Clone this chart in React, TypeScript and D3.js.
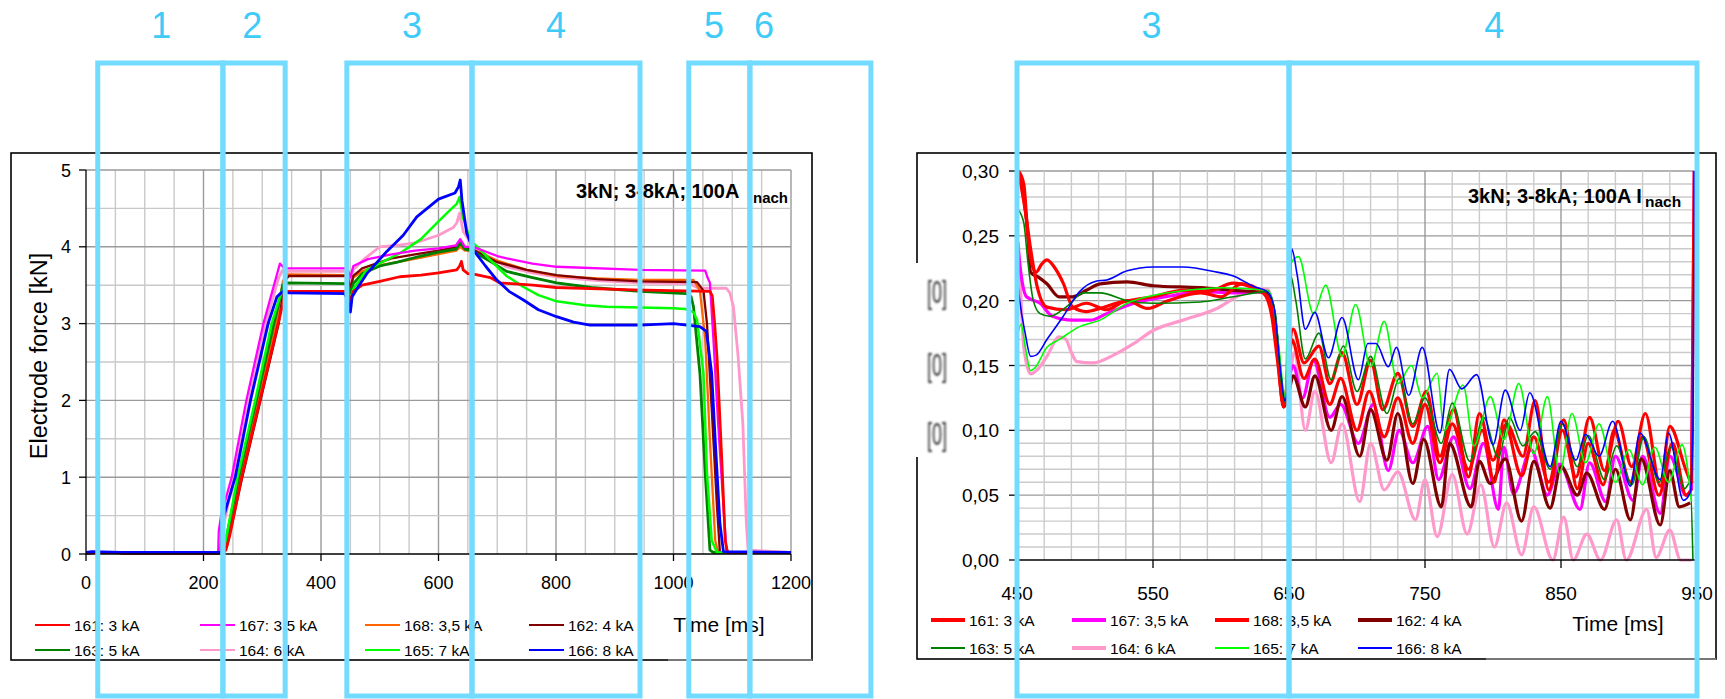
import React from 'react';
import * as d3 from 'd3';

const FONT = '"Liberation Sans", Arial, Helvetica, sans-serif';

// ---------- Left chart: electrode force [kN] vs time [ms] ----------
const forceTicksX = [0, 200, 400, 600, 800, 1000, 1200];
const forceTicksY = [0, 1, 2, 3, 4, 5];

const force161: [number, number][] = [[0,0.01],[20,0.02],[50,0.02],[60,0.01],[232,0.01],[238,0.05],[245,0.25],[265,1.0],[296,2.0],[327,3.0],[340,3.42],[445,3.42],[450,3.3],[455,3.42],[470,3.5],[500,3.55],[534,3.61],[570,3.63],[600,3.66],[631,3.7],[636,3.75],[639,3.81],[642,3.7],[650,3.65],[662,3.64],[688,3.6],[705,3.53],[761,3.5],[800,3.47],[931,3.44],[1062,3.42],[1066,3.36],[1070,3.0],[1074,2.57],[1082,1.26],[1088,0.18],[1092,0.02],[1200,0.02]];
const force167: [number, number][] = [[0,0.02],[225,0.02],[226,0.3],[230,0.5],[248,1.0],[273,2.0],[302,3.0],[330,3.78],[338,3.72],[445,3.72],[450,3.6],[455,3.75],[480,3.84],[520,3.9],[560,3.95],[600,3.98],[630,4.02],[637,4.1],[645,4.0],[659,4.0],[700,3.88],[716,3.85],[760,3.78],[801,3.74],[943,3.7],[1054,3.69],[1058,3.6],[1062,3.53],[1068,2.79],[1076,1.7],[1085,0.62],[1090,0.05],[1095,0.02],[1200,0.02]];
const force168: [number, number][] = [[0,0.02],[233,0.02],[238,0.1],[262,1.0],[293,2.0],[324,3.0],[335,3.55],[342,3.64],[445,3.63],[450,3.45],[455,3.6],[470,3.68],[500,3.76],[530,3.8],[570,3.86],[610,3.92],[630,3.95],[637,4.0],[645,3.95],[659,3.96],[700,3.82],[750,3.7],[801,3.62],[870,3.59],[943,3.57],[1034,3.57],[1045,3.43],[1054,2.79],[1062,1.48],[1071,0.18],[1076,0.02],[1200,0.02]];
const force162: [number, number][] = [[0,0.02],[235,0.02],[240,0.1],[266,1.0],[297,2.0],[328,3.0],[338,3.55],[345,3.62],[445,3.62],[450,3.45],[455,3.62],[470,3.72],[520,3.85],[560,3.9],[600,3.95],[630,4.0],[637,4.07],[645,3.98],[659,3.96],[700,3.8],[750,3.7],[801,3.63],[870,3.58],[943,3.55],[1040,3.54],[1051,3.43],[1057,3.0],[1065,1.9],[1074,0.62],[1079,0.02],[1200,0.02]];
const force163: [number, number][] = [[0,0.02],[232,0.02],[236,0.1],[260,1.0],[290,2.0],[320,3.0],[335,3.5],[340,3.53],[445,3.52],[450,3.4],[455,3.52],[470,3.65],[500,3.75],[530,3.8],[570,3.88],[600,3.93],[630,3.97],[637,4.05],[645,3.97],[659,3.94],[690,3.8],[716,3.68],[760,3.6],[801,3.53],[860,3.47],[943,3.42],[1022,3.39],[1030,3.35],[1034,3.22],[1045,2.35],[1054,1.05],[1062,0.05],[1068,0.02],[1200,0.02]];
const force164: [number, number][] = [[0,0.02],[228,0.02],[232,0.3],[252,1.0],[278,2.0],[306,3.0],[328,3.6],[335,3.7],[340,3.68],[445,3.68],[450,3.5],[455,3.7],[475,3.85],[500,4.0],[530,4.02],[560,4.05],[600,4.15],[625,4.25],[631,4.31],[636,4.44],[642,4.2],[659,4.0],[690,3.85],[716,3.74],[760,3.66],[801,3.61],[870,3.56],[943,3.53],[1028,3.52],[1040,3.47],[1045,3.46],[1090,3.46],[1096,3.4],[1102,3.22],[1110,2.57],[1118,1.7],[1124,0.4],[1127,0.05],[1200,0.02]];
const force165: [number, number][] = [[0,0.02],[230,0.02],[236,0.1],[258,1.0],[288,2.0],[316,3.0],[333,3.42],[445,3.42],[450,3.3],[455,3.45],[478,3.7],[535,3.92],[570,4.1],[600,4.33],[620,4.48],[631,4.56],[636,4.65],[641,4.4],[654,4.09],[688,3.83],[716,3.62],[744,3.48],[770,3.37],[801,3.29],[850,3.24],[886,3.22],[1000,3.2],[1020,3.19],[1034,3.15],[1040,3.05],[1051,2.35],[1057,1.05],[1065,0.18],[1074,0.02],[1200,0.02]];
const force166: [number, number][] = [[0,0.02],[10,0.03],[60,0.02],[230,0.02],[231,0.4],[254,1.0],[280,2.0],[310,3.0],[325,3.35],[335,3.42],[345,3.4],[440,3.39],[446,3.3],[450,3.15],[453,3.35],[465,3.5],[478,3.65],[512,3.94],[540,4.15],[563,4.39],[600,4.62],[628,4.7],[634,4.78],[637,4.87],[640,4.6],[648,4.18],[659,3.96],[680,3.75],[699,3.57],[720,3.42],[744,3.31],[770,3.18],[801,3.09],[830,3.02],[858,2.98],[943,2.98],[1000,3.0],[1045,2.96],[1056,2.9],[1065,2.35],[1071,1.48],[1079,0.4],[1085,0.03],[1200,0.02]];

// ---------- Right chart: values vs time [ms], 450..950 ----------
const resTicksX = [450, 550, 650, 750, 850, 950];
const resTicksY = [0, 0.05, 0.1, 0.15, 0.2, 0.25, 0.3];

const res161: [number, number][] = [[451,0.3],[455,0.29],[458,0.25],[461,0.228],[464,0.222],[468,0.228],[472,0.2315],[478,0.225],[484,0.2135],[491,0.195],[501,0.1916],[511,0.194],[523,0.198],[536,0.2006],[550,0.203],[572,0.208],[590,0.207],[609,0.2135],[621,0.211],[631,0.206],[636,0.2],[641,0.17],[645,0.123],[647,0.12],[650,0.16],[653,0.178],[661,0.152],[672,0.165],[680,0.136],[689,0.16],[700,0.12],[710,0.154],[719,0.116],[730,0.144],[741,0.103],[751,0.13],[761,0.08],[771,0.116],[782,0.064],[790,0.113],[800,0.077],[810,0.105],[822,0.08],[831,0.123],[841,0.054],[851,0.1],[861,0.064],[871,0.11],[882,0.069],[892,0.107],[902,0.072],[912,0.113],[923,0.057],[930,0.103],[942,0.069],[946,0.06],[948,0.3]];
const res167: [number, number][] = [[450,0.25],[453,0.22],[457,0.203],[467,0.198],[476,0.188],[491,0.185],[504,0.185],[516,0.19],[536,0.198],[565,0.204],[585,0.207],[609,0.206],[634,0.207],[639,0.19],[643,0.15],[646,0.12],[650,0.14],[653,0.15],[660,0.125],[668,0.154],[680,0.11],[688,0.12],[701,0.09],[712,0.12],[723,0.069],[731,0.1],[741,0.075],[752,0.103],[760,0.062],[771,0.095],[783,0.055],[793,0.09],[804,0.039],[808,0.087],[815,0.051],[828,0.085],[840,0.05],[849,0.074],[864,0.039],[871,0.075],[883,0.045],[890,0.08],[903,0.046],[910,0.08],[923,0.036],[930,0.08],[942,0.05],[946,0.055],[948,0.3]];
const res168: [number, number][] = [[451,0.3],[456,0.27],[460,0.24],[465,0.21],[472,0.195],[486,0.193],[501,0.198],[516,0.193],[531,0.2],[546,0.194],[561,0.2],[585,0.206],[600,0.203],[615,0.213],[631,0.206],[637,0.19],[642,0.15],[646,0.118],[650,0.15],[652,0.17],[661,0.14],[669,0.155],[680,0.12],[688,0.14],[700,0.1],[709,0.13],[720,0.095],[730,0.125],[741,0.09],[750,0.12],[761,0.075],[770,0.105],[782,0.07],[792,0.1],[801,0.06],[808,0.108],[821,0.065],[830,0.095],[841,0.06],[852,0.108],[862,0.055],[870,0.09],[881,0.058],[889,0.1],[901,0.06],[910,0.095],[922,0.05],[932,0.09],[942,0.05],[946,0.055]];
const res162: [number, number][] = [[451,0.3],[455,0.28],[458,0.25],[460,0.222],[466,0.218],[472,0.213],[481,0.203],[491,0.203],[501,0.208],[511,0.213],[531,0.2145],[550,0.2115],[585,0.21],[609,0.208],[634,0.206],[639,0.19],[643,0.15],[646,0.118],[650,0.13],[653,0.142],[662,0.118],[669,0.142],[681,0.1],[689,0.126],[702,0.08],[710,0.116],[722,0.077],[730,0.113],[741,0.059],[749,0.093],[762,0.041],[768,0.09],[784,0.041],[790,0.076],[798,0.059],[809,0.078],[821,0.03],[830,0.076],[842,0.04],[850,0.072],[862,0.05],[869,0.067],[882,0.039],[890,0.07],[901,0.031],[909,0.078],[923,0.027],[930,0.069],[937,0.041],[945,0.044]];
const res163: [number, number][] = [[451,0.27],[455,0.26],[458,0.23],[462,0.2],[467,0.19],[474,0.188],[486,0.195],[499,0.206],[511,0.206],[531,0.2],[550,0.198],[585,0.199],[609,0.203],[634,0.207],[640,0.19],[644,0.14],[647,0.122],[651,0.22],[655,0.2],[662,0.155],[672,0.175],[681,0.139],[690,0.165],[700,0.13],[710,0.157],[722,0.113],[731,0.14],[741,0.105],[750,0.125],[762,0.09],[770,0.121],[783,0.076],[793,0.11],[804,0.079],[812,0.11],[822,0.088],[831,0.099],[842,0.07],[851,0.105],[862,0.072],[870,0.096],[882,0.062],[891,0.088],[902,0.058],[911,0.095],[922,0.06],[931,0.087],[941,0.055],[945,0.06],[947,0.0]];
const res164: [number, number][] = [[451,0.245],[453,0.2],[455,0.164],[460,0.1435],[466,0.148],[472,0.157],[481,0.172],[486,0.17],[490,0.16],[494,0.153],[506,0.152],[521,0.158],[536,0.167],[550,0.177],[572,0.185],[597,0.194],[617,0.206],[634,0.209],[639,0.19],[643,0.14],[646,0.12],[649,0.13],[654,0.16],[662,0.1],[669,0.13],[681,0.075],[689,0.105],[702,0.045],[710,0.09],[720,0.054],[730,0.068],[743,0.031],[750,0.062],[759,0.018],[770,0.066],[781,0.02],[791,0.058],[801,0.01],[810,0.044],[821,0.004],[830,0.041],[844,0],[852,0.033],[859,0],[869,0.02],[879,0],[891,0.031],[898,0],[913,0.039],[920,0.002],[930,0.023],[938,0],[946,0]];
const res165: [number, number][] = [[450,0.17],[453,0.182],[456,0.165],[460,0.146],[463,0.148],[472,0.164],[481,0.17],[496,0.18],[511,0.185],[531,0.198],[550,0.204],[575,0.208],[600,0.21],[634,0.208],[638,0.2],[643,0.16],[647,0.125],[649,0.19],[651,0.228],[657,0.234],[668,0.19],[677,0.212],[689,0.157],[699,0.197],[710,0.149],[720,0.184],[730,0.136],[740,0.15],[748,0.125],[759,0.144],[764,0.1],[778,0.135],[786,0.088],[798,0.126],[808,0.093],[819,0.136],[830,0.082],[840,0.126],[849,0.067],[858,0.113],[868,0.075],[878,0.105],[890,0.06],[900,0.085],[910,0.058],[919,0.087],[929,0.06],[939,0.089],[946,0.045]];
const res166: [number, number][] = [[450,0.22],[452,0.2],[456,0.175],[460,0.157],[464,0.158],[472,0.17],[484,0.188],[496,0.207],[508,0.215],[516,0.216],[531,0.223],[550,0.226],[572,0.226],[597,0.222],[609,0.219],[624,0.211],[634,0.207],[639,0.195],[644,0.144],[647,0.123],[650,0.14],[652,0.24],[656,0.22],[662,0.178],[669,0.191],[679,0.156],[689,0.187],[701,0.139],[708,0.167],[714,0.167],[723,0.149],[729,0.164],[738,0.127],[748,0.164],[761,0.098],[768,0.147],[777,0.132],[788,0.143],[800,0.089],[809,0.131],[820,0.1],[827,0.129],[842,0.072],[850,0.107],[861,0.077],[868,0.097],[878,0.08],[888,0.107],[901,0.057],[908,0.098],[923,0.062],[929,0.098],[940,0.046],[945,0.052],[947,0.1],[948,0.3]];

// Phase annotations (ms on each chart's time axis)
const leftPhaseEdges = [[20, 233], [233, 339], [444, 657], [657, 943], [1026, 1130], [1130, 1336]];
const leftPhaseLabels: [string, number][] = [['1', 128], ['2', 283], ['3', 555], ['4', 800], ['5', 1069], ['6', 1154]];
const rightPhaseEdges = [[450, 650], [650, 950]];
const rightPhaseLabels: [string, number][] = [['3', 549], ['4', 801]];

type S = { name: string; color: string; w: number; lw: number; pts: [number, number][] };

const leftSeries: S[] = [
  { name: '161: 3 kA', color: '#FF0000', w: 2.8, lw: 2, pts: force161 },
  { name: '167: 3,5 kA', color: '#FF00FF', w: 2.3, lw: 2, pts: force167 },
  { name: '168: 3,5 kA', color: '#FF6600', w: 2.3, lw: 2, pts: force168 },
  { name: '162: 4 kA', color: '#800000', w: 2.3, lw: 2, pts: force162 },
  { name: '163: 5 kA', color: '#008000', w: 2.8, lw: 2, pts: force163 },
  { name: '164: 6 kA', color: '#FF99CC', w: 2.8, lw: 2, pts: force164 },
  { name: '165: 7 kA', color: '#00FF00', w: 2.5, lw: 2, pts: force165 },
  { name: '166: 8 kA', color: '#0000FF', w: 2.8, lw: 2, pts: force166 },
];
const leftDrawOrder = [5, 2, 3, 4, 6, 1, 0, 7];

const rightSeries: S[] = [
  { name: '161: 3 kA', color: '#FF0000', w: 3.2, lw: 4, pts: res161 },
  { name: '167: 3,5 kA', color: '#FF00FF', w: 3.2, lw: 4, pts: res167 },
  { name: '168: 3,5 kA', color: '#FF0000', w: 3.2, lw: 4, pts: res168 },
  { name: '162: 4 kA', color: '#800000', w: 3.2, lw: 4, pts: res162 },
  { name: '163: 5 kA', color: '#008000', w: 1.6, lw: 2, pts: res163 },
  { name: '164: 6 kA', color: '#FF99CC', w: 3.2, lw: 4, pts: res164 },
  { name: '165: 7 kA', color: '#00FF00', w: 1.6, lw: 2, pts: res165 },
  { name: '166: 8 kA', color: '#0000FF', w: 1.6, lw: 2, pts: res166 },
];
const rightDrawOrder = [5, 1, 3, 2, 0, 4, 6, 7];

const CYAN = '#73DBFF';
const CYAN_TXT = '#3FCBF8';

export default function App() {
  const xL = d3.scaleLinear().domain([0, 1200]).range([86, 791]);
  const yL = d3.scaleLinear().domain([0, 5]).range([554, 170]);
  const xR = d3.scaleLinear().domain([450, 950]).range([1017, 1697]);
  const yR = d3.scaleLinear().domain([0, 0.3]).range([560, 171]);

  const lineL = d3.line<[number, number]>().x(d => xL(d[0])).y(d => yL(d[1]));
  const lineR = d3.line<[number, number]>().x(d => xR(d[0])).y(d => yR(d[1])).curve(d3.curveMonotoneX);

  const gridLX = d3.range(50, 1201, 50);
  const gridLY = d3.range(0.5, 5.01, 0.5);
  const gridRX = d3.range(470, 951, 20);
  const gridRY = d3.range(1, 31, 1).map(v => v / 100);

  const legendColsL = [35, 200, 365, 529];
  const legendRowsL = [625, 650];
  const legendColsR = [931, 1072, 1215, 1358];
  const legendRowsR = [620, 648];

  const top = 63;
  const bottom = 696;

  return (
    <svg width={1725} height={699} style={{ position: 'absolute', left: 0, top: 0, background: '#fff' }}
      fontFamily={FONT}>
      <defs>
        <clipPath id="clipR"><rect x={1017} y={166} width={682} height={396} /></clipPath>
        <clipPath id="clipL"><rect x={86} y={160} width={706} height={396} /></clipPath>
        <filter id="blurH" x="-50%" y="-20%" width="200%" height="140%">
          <feGaussianBlur stdDeviation="1.3 0.6" />
        </filter>
      </defs>
      <rect x={0} y={0} width={1725} height={699} fill="#fff" />

      {/* ===== Left chart ===== */}
      <rect x={11} y={153} width={801} height={507} fill="#fff" stroke="#000" strokeWidth={1.6} />
      <line x1={668} x2={812} y1={660} y2={660} stroke="#777" strokeWidth={1.8} />
      {gridLX.map(t => (
        <line key={'lx' + t} x1={xL(t)} x2={xL(t)} y1={yL(5)} y2={yL(0)}
          stroke={t % 200 === 0 ? '#9a9a9a' : '#c9c9c9'} strokeWidth={1.4} />
      ))}
      {gridLY.map(v => (
        <line key={'ly' + v} x1={xL(0)} x2={xL(1200)} y1={yL(v)} y2={yL(v)}
          stroke={Math.abs(v - Math.round(v)) < 1e-6 ? '#9a9a9a' : '#c9c9c9'} strokeWidth={1.4} />
      ))}
      <g clipPath="url(#clipL)">
        {leftDrawOrder.map(i => {
          const s = leftSeries[i];
          return <path key={'L' + i} d={lineL(s.pts) || ''} fill="none" stroke={s.color} strokeWidth={s.w} strokeLinejoin="round" />;
        })}
      </g>
      <line x1={xL(0)} x2={xL(0)} y1={yL(5)} y2={yL(0)} stroke="#000" strokeWidth={1.3} />
      <line x1={xL(0)} x2={xL(1200)} y1={yL(0)} y2={yL(0)} stroke="#000" strokeWidth={1.3} />
      {forceTicksY.map(v => (
        <g key={'lty' + v}>
          <line x1={xL(0) - 7} x2={xL(0)} y1={yL(v)} y2={yL(v)} stroke="#000" strokeWidth={1.3} />
          <text x={71} y={yL(v) + 6.5} textAnchor="end" fontSize={18}>{v}</text>
        </g>
      ))}
      {forceTicksX.map(t => (
        <g key={'ltx' + t}>
          <line x1={xL(t)} x2={xL(t)} y1={yL(0)} y2={yL(0) + 7} stroke="#000" strokeWidth={1.3} />
          <text x={xL(t)} y={589} textAnchor="middle" fontSize={18}>{t}</text>
        </g>
      ))}
      <text transform="translate(47,356) rotate(-90)" textAnchor="middle" fontSize={23.5}>Electrode force [kN]</text>
      <text x={719} y={632} textAnchor="middle" fontSize={21}>Time [ms]</text>
      <text x={576} y={198} fontSize={20} fontWeight="bold">3kN; 3-8kA; 100A</text>
      <text x={753} y={203} fontSize={15} fontWeight="bold">nach</text>
      {leftSeries.map((s, i) => {
        const cx = legendColsL[i % 4];
        const cy = legendRowsL[Math.floor(i / 4)];
        return (
          <g key={'lg' + i}>
            <line x1={cx} x2={cx + 35} y1={cy} y2={cy} stroke={s.color} strokeWidth={s.lw} />
            <text x={cx + 39} y={cy + 5.5} fontSize={15.5}>{s.name}</text>
          </g>
        );
      })}

      {/* ===== Right chart ===== */}
      <rect x={917} y={153} width={799} height={506} fill="#fff" stroke="#000" strokeWidth={1.6} />
      <line x1={1486} x2={1716} y1={659} y2={659} stroke="#777" strokeWidth={1.8} />
      {gridRY.map(v => (
        <line key={'ry' + v} x1={xR(450)} x2={xR(950)} y1={yR(v)} y2={yR(v)}
          stroke={Math.round(v * 100) % 5 === 0 ? '#9a9a9a' : '#cbcbcb'} strokeWidth={1.4} />
      ))}
      {gridRX.map(t => (
        <line key={'rx' + t} x1={xR(t)} x2={xR(t)} y1={yR(0.3)} y2={yR(0)}
          stroke={(t - 450) % 100 === 0 ? '#9a9a9a' : '#cbcbcb'} strokeWidth={1.4} />
      ))}
      <g clipPath="url(#clipR)">
        {rightDrawOrder.map(i => {
          const s = rightSeries[i];
          return <path key={'R' + i} d={lineR(s.pts) || ''} fill="none" stroke={s.color} strokeWidth={s.w} strokeLinejoin="round" />;
        })}
      </g>
      <line x1={xR(450)} x2={xR(450)} y1={yR(0.3)} y2={yR(0)} stroke="#000" strokeWidth={1.3} />
      <line x1={xR(450)} x2={xR(950)} y1={yR(0)} y2={yR(0)} stroke="#000" strokeWidth={1.3} />
      {resTicksY.map(v => (
        <g key={'rty' + v}>
          <line x1={xR(450) - 8} x2={xR(450)} y1={yR(v)} y2={yR(v)} stroke="#000" strokeWidth={1.3} />
          <text x={999} y={yR(v) + 7} textAnchor="end" fontSize={19}>{d3.format('.2f')(v).replace('.', ',')}</text>
        </g>
      ))}
      {resTicksX.map(t => (
        <g key={'rtx' + t}>
          <line x1={xR(t)} x2={xR(t)} y1={yR(0)} y2={yR(0) + 8} stroke="#000" strokeWidth={1.3} />
          <text x={xR(t)} y={600} textAnchor="middle" fontSize={19}>{t}</text>
        </g>
      ))}
      <text x={1618} y={631} textAnchor="middle" fontSize={21}>Time [ms]</text>
      <text x={1468} y={203} fontSize={20} fontWeight="bold">3kN; 3-8kA; 100A I</text>
      <text x={1645} y={207} fontSize={15.5} fontWeight="bold">nach</text>
      {rightSeries.map((s, i) => {
        const cx = legendColsR[i % 4];
        const cy = legendRowsR[Math.floor(i / 4)];
        return (
          <g key={'rg' + i}>
            <line x1={cx} x2={cx + 34} y1={cy} y2={cy} stroke={s.color} strokeWidth={s.lw} />
            <text x={cx + 38} y={cy + 5.5} fontSize={15.5}>{s.name}</text>
          </g>
        );
      })}
      {/* obscured y-axis title */}
      <rect x={912} y={263} width={48} height={194} fill="#fff" />
      {[290, 363, 432].map((cy, i) => (
        <text key={'ob' + i} transform={`translate(937,${cy + 13}) scale(0.9,1.6)`} textAnchor="middle"
          fontSize={20} fill="#333" filter="url(#blurH)">[0]</text>
      ))}

      {/* ===== Phase overlay boxes ===== */}
      {leftPhaseEdges.map(([a, b], i) => (
        <rect key={'pl' + i} x={xL(a)} y={top} width={xL(b) - xL(a)} height={bottom - top}
          fill="none" stroke={CYAN} strokeWidth={5} />
      ))}
      {leftPhaseLabels.map(([lab, t]) => (
        <text key={'pll' + lab} x={xL(t)} y={38} textAnchor="middle" fontSize={36} fill={CYAN_TXT}>{lab}</text>
      ))}
      {rightPhaseEdges.map(([a, b], i) => (
        <rect key={'pr' + i} x={xR(a)} y={top} width={xR(b) - xR(a)} height={bottom - top}
          fill="none" stroke={CYAN} strokeWidth={5} />
      ))}
      {rightPhaseLabels.map(([lab, t]) => (
        <text key={'prl' + lab} x={xR(t)} y={38} textAnchor="middle" fontSize={36} fill={CYAN_TXT}>{lab}</text>
      ))}
    </svg>
  );
}
